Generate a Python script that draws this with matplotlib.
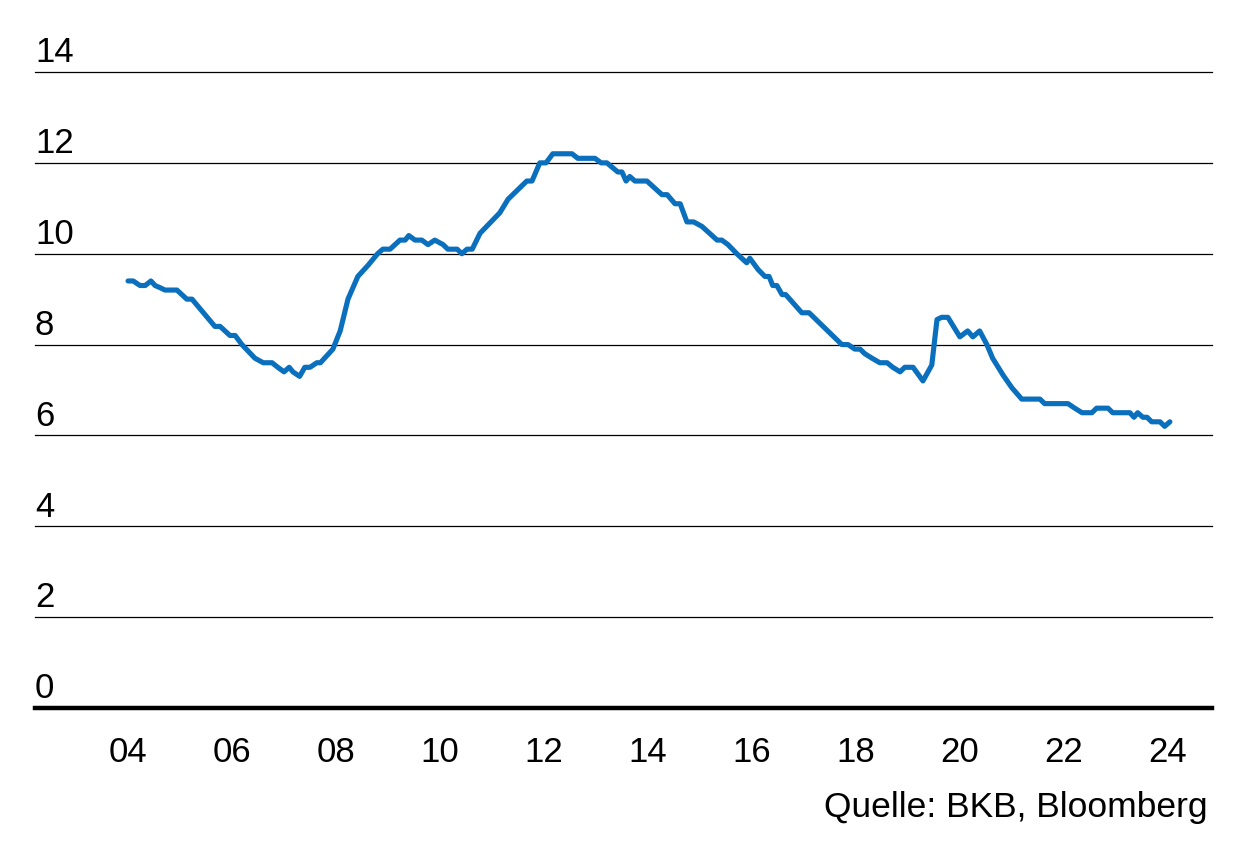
import matplotlib
matplotlib.use("Agg")
import matplotlib.pyplot as plt
import matplotlib.transforms as mtransforms

plt.rcParams['font.family'] = ['Liberation Sans', 'DejaVu Sans']

# series (decimal year, value)
years = [2004.0, 2004.1, 2004.23, 2004.33, 2004.44, 2004.52, 2004.62, 2004.71, 2004.94,
         2005.13, 2005.23, 2005.67, 2005.77, 2005.96, 2006.06, 2006.19, 2006.44, 2006.6,
         2006.77, 2006.88, 2007.0, 2007.1, 2007.17, 2007.3, 2007.4, 2007.5, 2007.63,
         2007.7, 2007.94, 2008.08, 2008.23, 2008.42, 2008.62, 2008.8, 2008.9, 2009.04,
         2009.23, 2009.33, 2009.4, 2009.52, 2009.65, 2009.77, 2009.9, 2010.06, 2010.15,
         2010.33, 2010.42, 2010.52, 2010.62, 2010.77, 2011.15, 2011.31, 2011.67, 2011.77,
         2011.92, 2012.04, 2012.17, 2012.54, 2012.65, 2012.98, 2013.1, 2013.21, 2013.42,
         2013.5, 2013.58, 2013.65, 2013.75, 2013.98, 2014.27, 2014.37, 2014.52, 2014.62,
         2014.75, 2014.88, 2015.04, 2015.33, 2015.42, 2015.54, 2015.71, 2015.9, 2015.96,
         2016.12, 2016.25, 2016.33, 2016.4, 2016.48, 2016.58, 2016.65, 2016.96, 2017.1,
         2017.73, 2017.85, 2017.98, 2018.08, 2018.17, 2018.31, 2018.46, 2018.6, 2018.71,
         2018.85, 2018.94, 2019.1, 2019.29, 2019.46, 2019.56, 2019.65, 2019.77, 2020.0,
         2020.15, 2020.25, 2020.38, 2020.52, 2020.63, 2020.83, 2021.0, 2021.19, 2021.54,
         2021.63, 2022.08, 2022.21, 2022.35, 2022.54, 2022.63, 2022.85, 2022.94, 2023.27,
         2023.35, 2023.42, 2023.52, 2023.6, 2023.69, 2023.85, 2023.94, 2024.04]
values = [9.4, 9.4, 9.3, 9.3, 9.4, 9.3, 9.25, 9.2, 9.2,
          9.0, 9.0, 8.4, 8.4, 8.2, 8.2, 8.0, 7.7, 7.6,
          7.6, 7.5, 7.4, 7.5, 7.4, 7.3, 7.5, 7.5, 7.6,
          7.6, 7.9, 8.3, 9.0, 9.5, 9.75, 10.0, 10.1, 10.1,
          10.3, 10.3, 10.4, 10.3, 10.3, 10.2, 10.3, 10.2, 10.1,
          10.1, 10.0, 10.1, 10.1, 10.45, 10.9, 11.2, 11.6, 11.6,
          12.0, 12.0, 12.2, 12.2, 12.1, 12.1, 12.0, 12.0, 11.8,
          11.8, 11.6, 11.7, 11.6, 11.6, 11.3, 11.3, 11.1, 11.1,
          10.7, 10.7, 10.6, 10.3, 10.3, 10.2, 10.0, 9.8, 9.9,
          9.65, 9.5, 9.5, 9.3, 9.3, 9.1, 9.1, 8.7, 8.7,
          8.0, 8.0, 7.9, 7.9, 7.8, 7.7, 7.6, 7.6, 7.5,
          7.4, 7.5, 7.5, 7.2, 7.55, 8.55, 8.6, 8.6, 8.17,
          8.3, 8.17, 8.3, 8.0, 7.7, 7.33, 7.05, 6.8, 6.8,
          6.7, 6.7, 6.6, 6.5, 6.5, 6.6, 6.6, 6.5, 6.5,
          6.4, 6.5, 6.4, 6.4, 6.3, 6.3, 6.2, 6.3]

x_ticks = [2004, 2006, 2008, 2010, 2012, 2014, 2016, 2018, 2020, 2022, 2024]
x_labels = ['04', '06', '08', '10', '12', '14', '16', '18', '20', '22', '24']
y_ticks = [0, 2, 4, 6, 8, 10, 12, 14]

fig = plt.figure(figsize=(12.46, 8.57), dpi=100)
ax = fig.add_axes([35 / 1246, 1 - 708 / 857, (1212 - 35) / 1246, (708 - 72) / 857])

ax.plot(years, values, color='#0a6fbd', lw=3.7, solid_joinstyle='round',
        solid_capstyle='round', zorder=3)

ax.set_xlim(2002.21, 2024.85)
ax.set_ylim(0, 14)

# grid lines, drawn by hand so the top one is not clipped
for v in y_ticks[1:]:
    ax.axhline(v, color='black', lw=0.9, clip_on=False, zorder=1)

# y labels sit above the lines, flush left
trans = mtransforms.blended_transform_factory(ax.transAxes, ax.transData)
for v in y_ticks:
    ax.annotate(str(v), xy=(0, v), xycoords=trans, xytext=(0, 7),
                textcoords='offset points', ha='left', va='baseline', fontsize=25)

for s in ['top', 'right', 'left']:
    ax.spines[s].set_visible(False)
ax.spines['bottom'].set_linewidth(3.2)
ax.spines['bottom'].set_color('black')

ax.set_yticks([])
ax.set_xticks(x_ticks)
ax.set_xticklabels(x_labels, fontsize=25)
ax.tick_params(axis='x', length=0, pad=20)

fig.text(1208 / 1246, 1 - 808 / 857, 'Quelle: BKB, Bloomberg', ha='right', va='center', fontsize=25.5)

fig.savefig('out.png', dpi=100)
